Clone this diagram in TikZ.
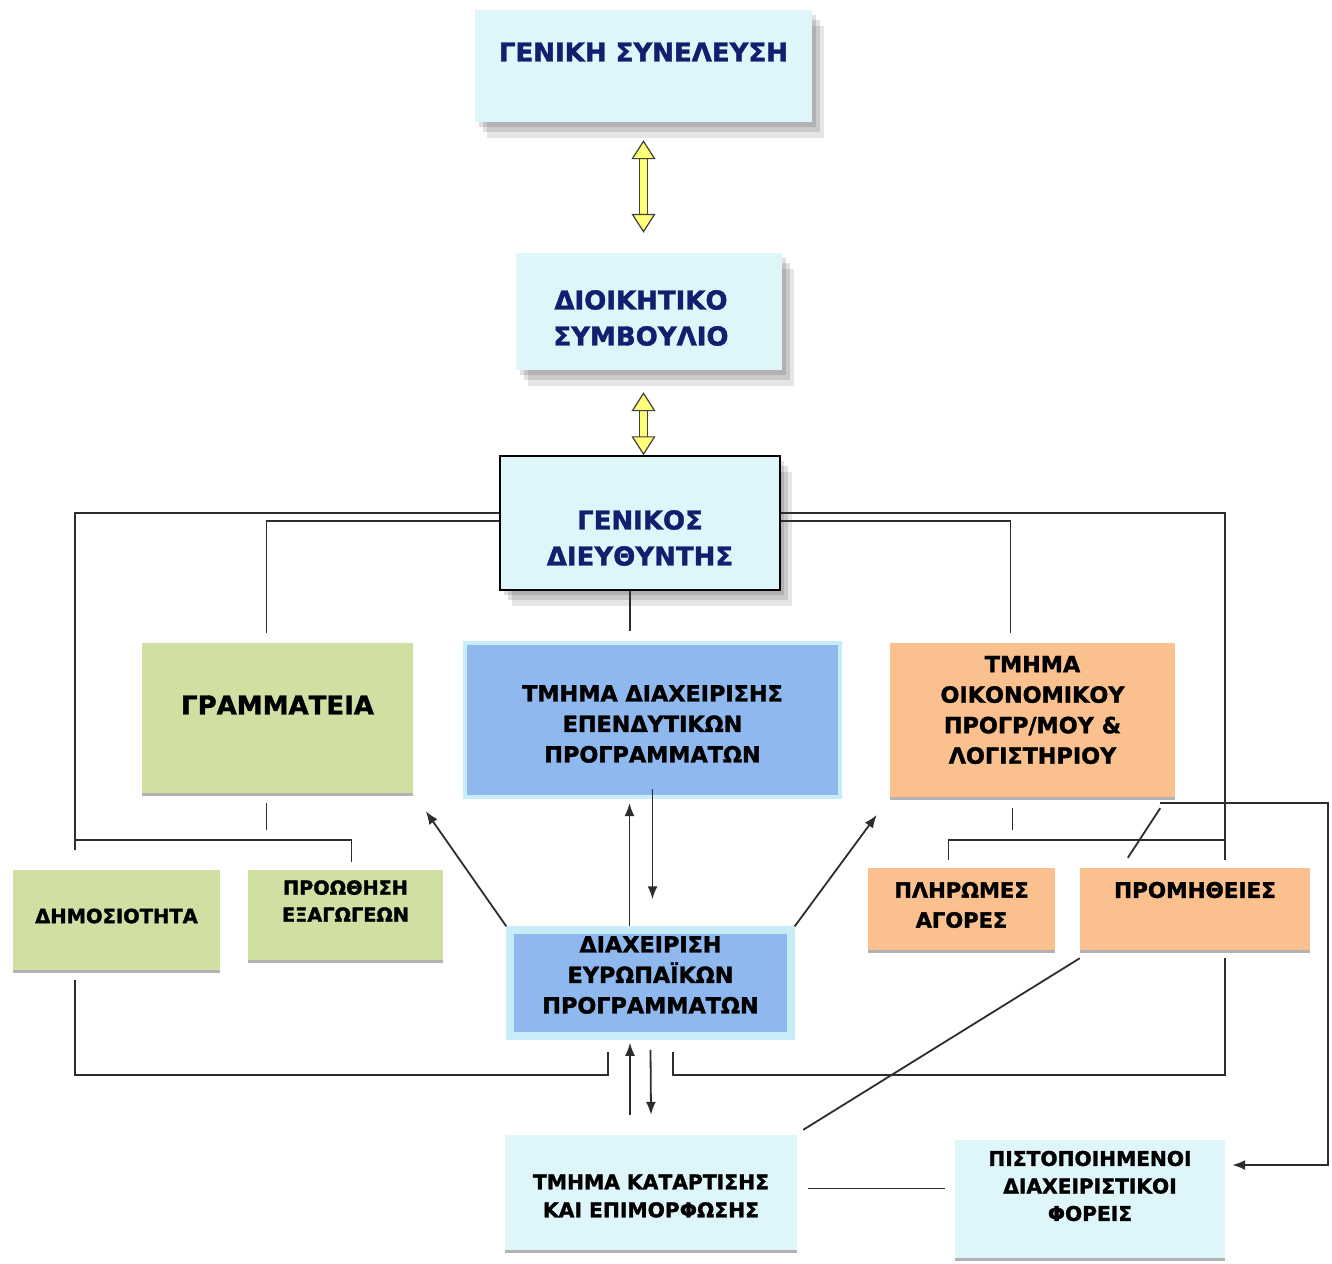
\documentclass[tikz,border=0pt]{standalone}
\usepackage{fontspec}
\setmainfont{DejaVu Sans}[BoldFeatures={FakeBold=1.6}]
\usepackage{tikz}
\usetikzlibrary{positioning,fit,shadows,arrows.meta}
\definecolor{paleclr}{RGB}{222,246,250}
\definecolor{ringclr}{RGB}{200,236,248}
\definecolor{navyclr}{RGB}{18,30,110}
\definecolor{greenclr}{RGB}{208,224,162}
\definecolor{blueclr}{RGB}{142,184,238}
\definecolor{orangeclr}{RGB}{250,193,142}
\definecolor{lineclr}{RGB}{45,45,45}
\definecolor{yelclr}{RGB}{255,255,120}
\tikzset{ %
  ,>={Latex[length=13pt,width=10pt]}
  ,every node/.style={font=\bfseries}
  ,unit/.style={inner sep=0, fit={#1}}
  ,rim/.style={drop shadow={shadow xshift=0pt, shadow yshift=-2.5pt, fill=black, opacity=.3}}
  ,soft/.style={drop shadow={shadow xshift=4pt, shadow yshift=-5pt, fill=black, opacity=.12},
                drop shadow={shadow xshift=8pt, shadow yshift=-10pt, fill=black, opacity=.12},
                drop shadow={shadow xshift=12pt, shadow yshift=-16pt, fill=black, opacity=.1}}
  ,head/.style={unit={#1}, fill=paleclr, soft}
  ,pale/.style={unit={#1}, fill=paleclr, rim}
  ,grn/.style={unit={#1}, fill=greenclr, rim}
  ,org/.style={unit={#1}, fill=orangeclr, rim}
  ,blu/.style={unit={#1}, fill=blueclr, draw=ringclr, line width=4pt}
  ,lg/.style={align=center, text=navyclr, font=\fontsize{26}{36}\selectfont\bfseries}
  ,md/.style={align=center, font=\fontsize{22.3}{30.5}\selectfont\bfseries}
  ,sm/.style={align=center, font=\fontsize{20.3}{28}\selectfont\bfseries}
  ,ln/.style={draw=lineclr, line width=1.8pt}
  ,yarr/.style={draw=black!75, line width=1.2pt, double=yelclr, double distance=7pt,
                {Triangle[width=24pt,length=19pt,fill=yelclr]}-{Triangle[width=24pt,length=19pt,fill=yelclr]}}
}

\begin{document}
\begin{tikzpicture}[x=1pt,y=-1pt]
    \useasboundingbox (0,0) rectangle (1332,1263);
    % boxes
    \node[head={(475,10) (812,122)}] (GS) {};
    \node[head={(516,253) (782,370)}] (DS) {};
    \node[head={(500,456) (780,590)}, draw=black, line width=1.5pt] (GD) {};
    \node[grn={(142,643) (413,793)}] (GR) {};
    \node[blu={(465,643) (840,797)}] (EP) {};
    \node[org={(890,643) (1175,797)}] (OI) {};
    \node[grn={(13,870) (220,970)}] (DH) {};
    \node[grn={(248,870) (443,960)}] (PE) {};
    \node[blu={(510,930) (791,1036)}, line width=7.5pt] (EU) {};
    \node[org={(868,868) (1055,950)}] (PL) {};
    \node[org={(1080,868) (1310,950)}] (PR) {};
    \node[pale={(505,1135) (797,1250)}] (KA) {};
    \node[pale={(955,1140) (1225,1258)}] (PF) {};
    % texts
    \node[lg] (GS-t) at ([yshift=14pt]GS) {ΓΕΝΙΚΗ ΣΥΝΕΛΕΥΣΗ};
    \node[lg] (DS-t) at ([xshift=-8pt,yshift=-6.5pt]DS) {ΔΙΟΙΚΗΤΙΚΟ\\ΣΥΜΒΟΥΛΙΟ};
    \node[lg] (GD-t) at ([yshift=-15pt]GD) {ΓΕΝΙΚΟΣ\\ΔΙΕΥΘΥΝΤΗΣ};
    \node[lg, text=black] (GR-t) at ([yshift=13pt]GR) {ΓΡΑΜΜΑΤΕΙΑ};
    \node[md] (EP-t) at ([yshift=-4pt]EP) {ΤΜΗΜΑ ΔΙΑΧΕΙΡΙΣΗΣ\\ΕΠΕΝΔΥΤΙΚΩΝ\\ΠΡΟΓΡΑΜΜΑΤΩΝ};
    \node[md] (OI-t) at ([yshift=10pt]OI) {ΤΜΗΜΑ\\ΟΙΚΟΝΟΜΙΚΟΥ\\ΠΡΟΓΡ/ΜΟΥ \&\\ΛΟΓΙΣΤΗΡΙΟΥ};
    \node[sm, font=\fontsize{19.5}{27}\selectfont\bfseries] (DH-t) at ([yshift=4pt]DH) {ΔΗΜΟΣΙΟΤΗΤΑ};
    \node[sm, font=\fontsize{19.3}{27}\selectfont\bfseries] (PE-t) at ([yshift=14pt]PE) {ΠΡΟΩΘΗΣΗ\\ΕΞΑΓΩΓΕΩΝ};
    \node[md] (EU-t) at ([yshift=8pt]EU) {ΔΙΑΧΕΙΡΙΣΗ\\ΕΥΡΩΠΑΪΚΩΝ\\ΠΡΟΓΡΑΜΜΑΤΩΝ};
    \node[sm, font=\fontsize{21}{30}\selectfont\bfseries] (PL-t) at ([yshift=4pt]PL) {ΠΛΗΡΩΜΕΣ\\ΑΓΟΡΕΣ};
    \node[sm, font=\fontsize{21.5}{30}\selectfont\bfseries] (PR-t) at ([yshift=19pt]PR) {ΠΡΟΜΗΘΕΙΕΣ};
    \node[sm] (KA-t) at ([yshift=-3.5pt]KA) {ΤΜΗΜΑ ΚΑΤΑΡΤΙΣΗΣ\\ΚΑΙ ΕΠΙΜΟΡΦΩΣΗΣ};
    \node[sm, font=\fontsize{20.2}{27.5}\selectfont\bfseries] (PF-t) at ([yshift=13pt]PF) {ΠΙΣΤΟΠΟΙΗΜΕΝΟΙ\\ΔΙΑΧΕΙΡΙΣΤΙΚΟΙ\\ΦΟΡΕΙΣ};
    % bus corners
    \coordinate (lbus) at (75,840);
    \coordinate (rbus) at (1225,840);
    \coordinate (bl) at (608,1075);
    \coordinate (br) at (673,1075);
    \coordinate (rc) at (1328,1165);
    % yellow arrows
    \draw[yarr, shorten >=20pt] ([yshift=-18pt]GS.south) -- (GS.south |- DS.north);
    \draw[yarr] ([yshift=-22pt]DS.south -| GS.south) -- (GS.south |- GD.north);
    % lines
    \draw[ln] ([yshift=10pt]GD.west) -| ([yshift=-10pt]lbus);
    \draw[ln] ([yshift=2pt]GD.west) -| ([xshift=-11pt,yshift=10pt]GR.north);
    \draw[ln] (lbus) -| ([xshift=6pt,yshift=8pt]PE.north);
    \draw[ln] ([xshift=-11pt,yshift=-10pt]GR.south) -- ++(0,27);
    \draw[ln] ([yshift=-10pt]DH.south -| lbus) |- (bl) -- ++(0,-23);
    \draw[ln] ([yshift=10pt]GD.east) -| ([yshift=-20pt]rbus);
    \draw[ln] ([yshift=2pt]GD.east) -| ([xshift=-22pt,yshift=10pt]OI.north);
    \draw[ln] ([xshift=-20pt,yshift=-11pt]OI.south) -- ++(0,22);
    \draw[ln] (rbus) -| ([xshift=-13pt,yshift=8pt]PL.north);
    \draw[ln] ([xshift=-15pt,yshift=-11pt]OI.south east) -- ([xshift=48pt,yshift=10pt]PR.north west);
    \draw[ln, ->] ([xshift=-15pt,yshift=-6pt]OI.south east) -| (rc) -- ([xshift=7pt]PF.east |- rc);
    \draw[ln] ([yshift=-8pt]PR.south -| rbus) |- (br) -- ++(0,-23);
    \draw[ln] ([yshift=-8pt]PR.south west) -- ([xshift=6pt,yshift=5pt]KA.north east);
    \draw[ln, shorten <=11pt, shorten >=10pt] ([yshift=4pt]KA.east) -- ([yshift=4pt]KA.east -| PF.west);
    \draw[ln, shorten >=10pt] ([xshift=-10pt]GD.south) -- ([xshift=-10pt]GD.south |- EP.north);
    % arrows round the european programmes
    \draw[ln, ->, shorten >=22pt] (EU.north west) -- (GR.south east);
    \draw[ln, ->, shorten >=22pt] (EU.north east) -- (OI.south west);
    \draw[ln, ->, shorten >=4pt] ([xshift=-21pt]EU.north) -- ([xshift=-21pt]EU.north |- EP.south);
    \draw[ln, ->, shorten >=17pt] ([yshift=10pt]EP.south) -- ([yshift=10pt]EP.south |- EU.north);
    \draw[ln, ->, shorten >=3pt] ([xshift=-21pt,yshift=20pt]KA.north) -- ([xshift=-21pt]KA.north |- EU.south);
    \draw[ln, ->] ([yshift=-10pt]EU.south) -- ([yshift=20pt]KA.north);
\end{tikzpicture}
\end{document}
